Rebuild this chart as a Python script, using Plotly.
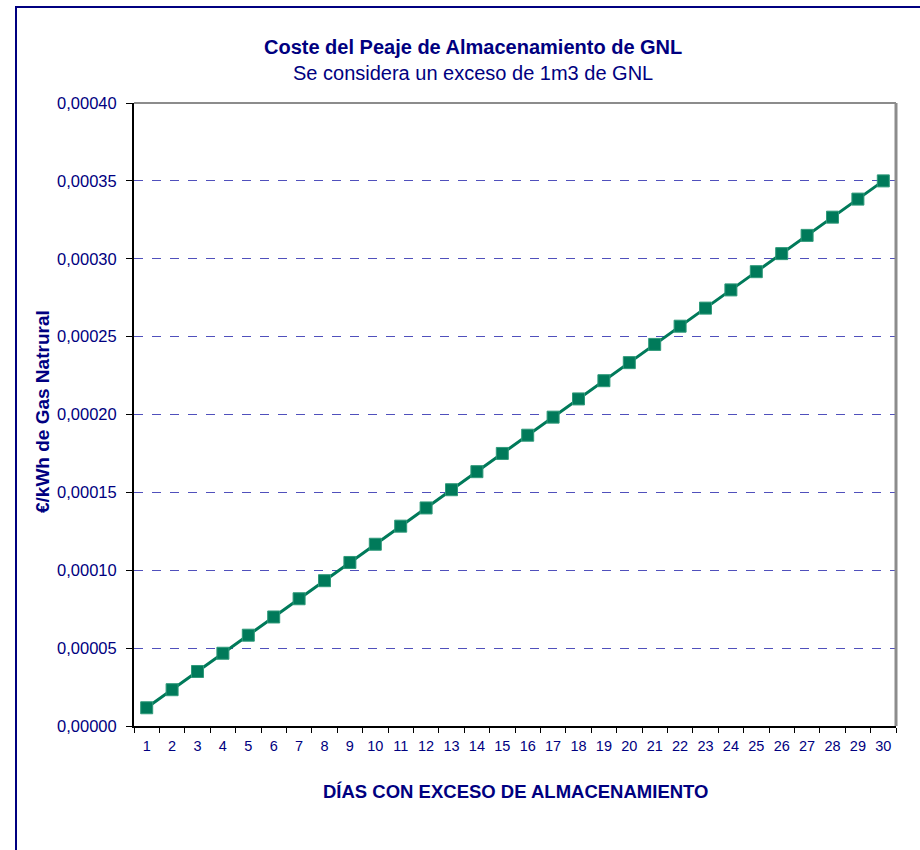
import plotly.graph_objects as go

# Days with excess storage and the corresponding toll cost (€/kWh)
dias = [str(d) for d in range(1, 31)]
coste = [0.0000117, 0.0000233, 0.0000350, 0.0000467, 0.0000583, 0.0000700,
         0.0000817, 0.0000933, 0.0001050, 0.0001167, 0.0001283, 0.0001400,
         0.0001517, 0.0001633, 0.0001750, 0.0001867, 0.0001983, 0.0002100,
         0.0002217, 0.0002333, 0.0002450, 0.0002567, 0.0002683, 0.0002800,
         0.0002917, 0.0003033, 0.0003150, 0.0003267, 0.0003383, 0.0003500]
y_ticks = [0.0, 0.00005, 0.0001, 0.00015, 0.0002, 0.00025, 0.0003, 0.00035, 0.0004]

NAVY = "#000080"
GREEN = "#007A5A"
FONT = "Liberation Sans, Arial, sans-serif"

W, H = 920, 850
L, R, T, B = 134, 24, 103, 124
pw, ph = W - L - R, H - T - B


def px_x(p):
    return (p - L) / pw


def px_y(p):
    return (H - B - p) / ph


fig = go.Figure()
fig.add_trace(go.Scatter(
    x=dias, y=coste, mode="lines+markers",
    line=dict(color=GREEN, width=3),
    marker=dict(symbol="square", size=12, color=GREEN,
                line=dict(color="#2f9a7a", width=1)),
    showlegend=False, cliponaxis=False,
))

fig.update_layout(
    width=W, height=H,
    margin=dict(l=L, r=R, t=T, b=B),
    paper_bgcolor="white", plot_bgcolor="white",
    separators=", ",
    font=dict(family=FONT, color=NAVY, size=14),
    xaxis=dict(
        type="category", tickson="boundaries", ticks="outside",
        range=[-0.5, len(dias) - 0.5], tickangle=0,
        ticklen=5, tickcolor="black", tickwidth=1,
        showline=True, linecolor="black", linewidth=2,
        showgrid=False, zeroline=False, ticklabelstandoff=6,
        tickfont=dict(size=14.5, color=NAVY),
    ),
    yaxis=dict(
        range=[0, 0.0004], tickvals=y_ticks, tickformat=".5f",
        ticks="outside", ticklen=6, tickcolor="black", tickwidth=1,
        showline=True, linecolor="black", linewidth=2,
        showgrid=True, gridcolor="#5050bc", griddash="dash", gridwidth=1,
        zeroline=False, ticklabelstandoff=6,
        tickfont=dict(size=16.5, color=NAVY),
    ),
)

# Plot-area border: grey top and right edges
fig.add_shape(type="line", xref="paper", yref="paper", x0=0, x1=1, y0=1, y1=1,
              line=dict(color="#8c8c8c", width=2))
fig.add_shape(type="line", xref="paper", yref="paper", x0=1, x1=1, y0=0, y1=1,
              line=dict(color="#8c8c8c", width=3))

# Outer chart frame
fig.add_shape(type="rect", xref="paper", yref="paper",
              x0=px_x(16), x1=px_x(930), y0=px_y(860), y1=px_y(7),
              line=dict(color=NAVY, width=2), fillcolor="rgba(0,0,0,0)")

# Titles
fig.add_annotation(text="<b>Coste del Peaje de Almacenamiento de GNL</b>",
                   xref="paper", yref="paper", x=px_x(473), y=px_y(47),
                   xanchor="center", yanchor="middle",
                   showarrow=False, font=dict(size=20, color=NAVY))
fig.add_annotation(text="Se considera un exceso de 1m3 de GNL",
                   xref="paper", yref="paper", x=px_x(473), y=px_y(73),
                   xanchor="center", yanchor="middle",
                   showarrow=False, font=dict(size=20, color=NAVY))
fig.add_annotation(text="<b>DÍAS CON EXCESO DE ALMACENAMIENTO</b>",
                   xref="paper", yref="paper", x=0.5, y=px_y(791),
                   xanchor="center", yanchor="middle",
                   showarrow=False, font=dict(size=18.5, color=NAVY))
fig.add_annotation(text="<b>€/kWh de Gas Natrural</b>",
                   xref="paper", yref="paper", x=px_x(42), y=px_y(412),
                   xanchor="center", yanchor="middle",
                   textangle=-90, showarrow=False,
                   font=dict(size=19, color=NAVY))

fig.write_html("out.html")
